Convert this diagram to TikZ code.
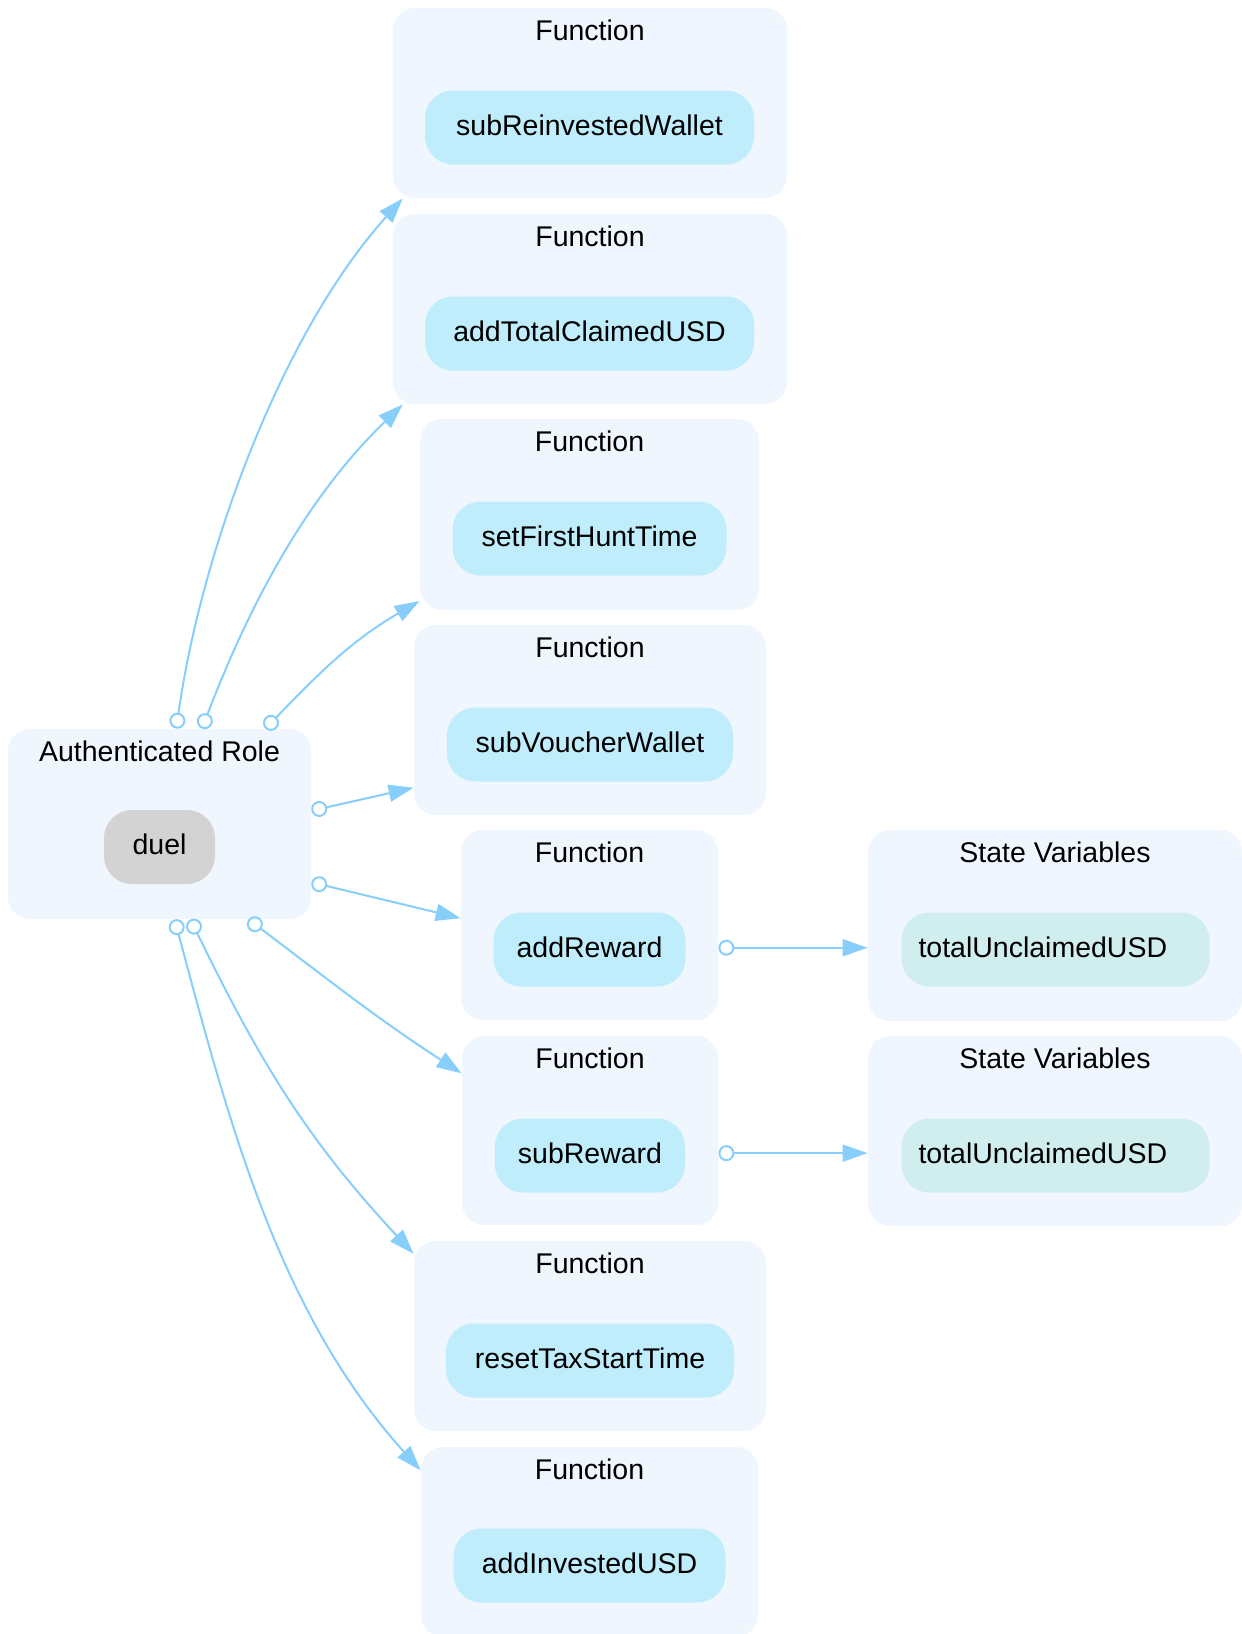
\documentclass[tikz,border=0pt]{standalone}
\usepackage{fontspec}
\setmainfont{Liberation Sans}
\usetikzlibrary{arrows.meta}
\definecolor{clusterbg}{HTML}{EFF6FE}
\definecolor{fnfill}{HTML}{BFEDFC}
\definecolor{varfill}{HTML}{D1EEEE}
\definecolor{rolefill}{HTML}{D3D3D3}
\definecolor{edgeblue}{HTML}{87CEFA}

\begin{document}
\begin{tikzpicture}[
    x=0.5pt, y=0.5pt,
    cluster/.style={rectangle, fill=clusterbg, rounded corners=11pt, inner sep=0pt, minimum height=95pt},
    title/.style={anchor=base, inner sep=0pt, font=\fontsize{14.25}{17}\selectfont},
    fnode/.style={rectangle, fill=fnfill, rounded corners=14pt, minimum height=37pt, inner sep=0pt,
      text height=10.5pt, text depth=2.7pt, font=\fontsize{14.25}{17}\selectfont},
    vnode/.style={fnode, fill=varfill, minimum width=154pt, text width=137pt, align=left},
    rnode/.style={fnode, fill=rolefill},
    link/.style={draw=edgeblue, line width=1pt, arrows={Circle[open,length=8pt,width=8pt]-Triangle[length=12.5pt,width=8.5pt]}},
  ]
  \useasboundingbox (0,-1634) rectangle (1242,0);

  % caller
  \node[cluster, minimum width=151.5pt] (auth) at (159.5,-824) {};
  \node[title] (tAuth) at (159.5,-761.5) {Authenticated Role};
  \node[rnode, minimum width=55.5pt] (duel) at (159.5,-847) {duel};

  % functions
  \node[cluster, minimum width=197pt] (clA) at (590,-103) {};
  \node[title] (tA) at (590,-40.5) {Function};
  \node[fnode, minimum width=164.5pt] (fA) at (589.5,-127.5) {subReinvestedWallet};

  \node[cluster, minimum width=197pt] (clB) at (590,-309) {};
  \node[title] (tB) at (590,-246.5) {Function};
  \node[fnode, minimum width=164.5pt] (fB) at (589.5,-333.5) {addTotalClaimedUSD};

  \node[cluster, minimum width=169.5pt, minimum height=95.5pt] (clC) at (589.5,-514.5) {};
  \node[title] (tC) at (589.5,-451.5) {Function};
  \node[fnode, minimum width=137pt] (fC) at (589.5,-538.5) {setFirstHuntTime};

  \node[cluster, minimum width=176pt] (clD) at (590,-720) {};
  \node[title] (tD) at (590,-657.5) {Function};
  \node[fnode, minimum width=143pt] (fD) at (590,-744.5) {subVoucherWallet};

  \node[cluster, minimum width=128.5pt] (clE) at (589.5,-925) {};
  \node[title] (tE) at (589.5,-862.5) {Function};
  \node[fnode, minimum width=96pt] (fE) at (589.5,-949.5) {addReward};

  \node[cluster, minimum width=128pt, minimum height=94.5pt] (clF) at (590,-1130.5) {};
  \node[title] (tF) at (590,-1068.5) {Function};
  \node[fnode, minimum width=95pt] (fF) at (590,-1155.5) {subReward};

  \node[cluster, minimum width=176pt] (clG) at (590,-1336) {};
  \node[title] (tG) at (590,-1273.5) {Function};
  \node[fnode, minimum width=144pt] (fG) at (590,-1360.5) {resetTaxStartTime};

  \node[cluster, minimum width=168.5pt] (clH) at (589.5,-1542) {};
  \node[title] (tH) at (589.5,-1479.5) {Function};
  \node[fnode, minimum width=136pt] (fH) at (589.5,-1565.5) {addInvestedUSD};

  % state variables
  \node[cluster, minimum width=187pt, minimum height=95.5pt] (svA) at (1055,-925.5) {};
  \node[title] (tvA) at (1055,-862.5) {State Variables};
  \node[vnode] (vA) at (1055.5,-949.5) {totalUnclaimedUSD};

  \node[cluster, minimum width=187pt] (svB) at (1055,-1131) {};
  \node[title] (tvB) at (1055,-1068.5) {State Variables};
  \node[vnode] (vB) at (1055.5,-1155.5) {totalUnclaimedUSD};

  % calls
  \draw[link] (auth.80) to[out=82, in=228, looseness=0.8] (clA.207.5);
  \draw[link] (auth.66.5) to[out=69, in=224, looseness=0.9] (clB.207.5);
  \draw[link] (auth.42.5) to[out=46, in=210] (clC.207);
  \draw[link] (auth.5) -- (clD.201);
  \draw[link] (auth.-21) -- (clE.177);
  \draw[link] (auth.-47) to[out=-37, in=147] (clF.156);
  \draw[link] (auth.-72) to[out=-64, in=133] (clG.155);
  \draw[link] (auth.-81) to[out=-75, in=132, looseness=0.9] (clH.157);
  \draw[link] (clE.-10.6) -- (clE.-10.6 -| svA.west);
  \draw[link] (clF.-10.8) -- (clF.-10.8 -| svB.west);
\end{tikzpicture}
\end{document}
